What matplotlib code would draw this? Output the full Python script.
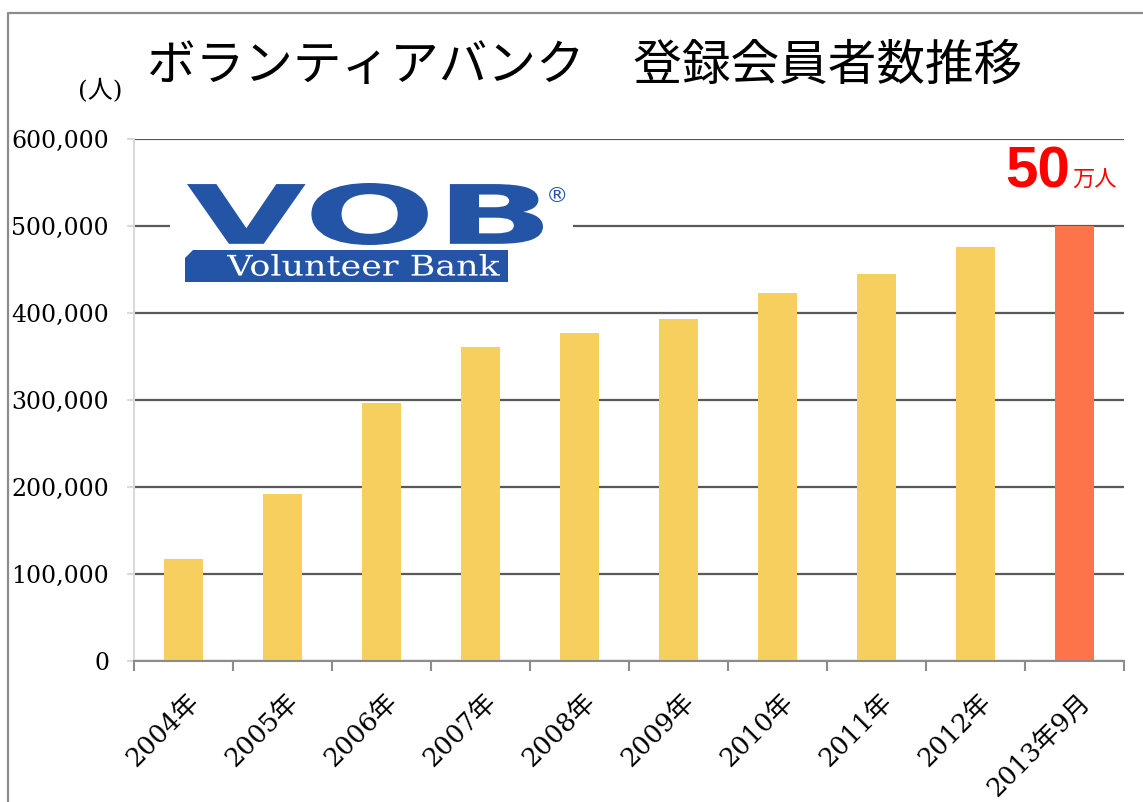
import numpy as np
import matplotlib
matplotlib.use('Agg')
import matplotlib.pyplot as plt
from matplotlib.transforms import Affine2D, ScaledTranslation
from matplotlib.textpath import TextPath
from matplotlib.font_manager import FontProperties
from matplotlib.patches import PathPatch, Polygon, Rectangle
from matplotlib.lines import Line2D

plt.rcParams['font.family'] = ['DejaVu Serif', 'Noto Sans CJK JP']

# data
years = ['2004年', '2005年', '2006年', '2007年', '2008年',
         '2009年', '2010年', '2011年', '2012年', '2013年9月']
members = [117000, 192000, 296000, 361000, 377000,
           393000, 423000, 445000, 476000, 500000]
yticks = [0, 100000, 200000, 300000, 400000, 500000, 600000]

bar_colors = ['#F7CF5F'] * (len(years) - 1) + ['#FE744A']

W, H = 1143, 802
fig = plt.figure(figsize=(W / 100, H / 100), dpi=100)
# transform for decorations in reference pixel coords (origin top-left)
px = Affine2D().scale(1 / W, -1 / H).translate(0, 1) + fig.transFigure

ax = fig.add_axes([134 / W, 1 - 661 / H, (1124 - 134) / W, (661 - 139) / H])

x = np.arange(len(years))
ax.bar(x, members, width=0.40, color=bar_colors, zorder=3)

ax.set_xlim(-0.5, len(years) - 0.5)
ax.set_ylim(0, 600000)
ax.set_yticks(yticks)
ax.set_yticklabels(['{:,}'.format(v) for v in yticks])
ax.yaxis.grid(True, color='#595959', lw=1.6, zorder=0)
ax.set_axisbelow(True)

# category boundaries as major ticks, labels on minor ticks
ax.set_xticks(np.arange(-0.5, len(years)))
ax.set_xticklabels([])
ax.set_xticks(x, minor=True)
ax.set_xticklabels(years, minor=True, rotation=45, ha='right', va='top',
                   rotation_mode='anchor', fontsize=18.5)
ax.tick_params(axis='x', which='major', length=7, width=1.5, color='#8c8c8c')
ax.tick_params(axis='x', which='minor', length=0, pad=20)
ax.tick_params(axis='y', length=5, width=1.5, color='#d9d9d9', pad=13,
               labelsize=17)
for lab in ax.get_xticklabels(minor=True):
    lab.set_transform(lab.get_transform() + ScaledTranslation(0.03, 0, fig.dpi_scale_trans))

for s in ['top', 'right']:
    ax.spines[s].set_visible(False)
ax.spines['left'].set_color('#d9d9d9')
ax.spines['left'].set_linewidth(1.5)
ax.spines['bottom'].set_color('#8c8c8c')
ax.spines['bottom'].set_linewidth(1.5)
ax.spines['bottom'].set_zorder(4)

# frame
fig.add_artist(Line2D([8, 8, W], [H, 13, 13], transform=px, color='#8c8c8c', lw=1.6))

# titles
fig.text(585 / W, 1 - 66 / H, 'ボランティアバンク　登録会員者数推移',
         family=['Noto Sans CJK JP'], fontsize=35, ha='center', va='center')
fig.text(100 / W, 1 - 91 / H, '(人)', family=['DejaVu Serif', 'Noto Sans CJK JP'],
         fontsize=18, ha='center', va='center')

# 50万人 annotation
fig.text(1005 / W, 1 - 187 / H, '50', family=['Liberation Sans'], fontweight='bold',
         fontsize=42, color='#FF0000', ha='left', va='baseline')
fig.text(1072 / W, 1 - 187 / H, '万人', family=['Noto Sans CJK JP'],
         fontsize=16, color='#FF0000', ha='left', va='baseline')


def fit_text(s, x0, y0, x1, y1, color, prop, z=6):
    tp = TextPath((0, 0), s, size=1, prop=prop)
    bb = tp.get_extents()
    tr = (Affine2D().translate(-bb.x0, -bb.y0)
          .scale((x1 - x0) / bb.width, -(y1 - y0) / bb.height)
          .translate(x0, y1))
    path = tr.transform_path(tp)
    fig.add_artist(PathPatch(path, facecolor=color, edgecolor='none',
                             transform=px, zorder=z))


# logo
blue = '#2354A6'
fig.add_artist(Rectangle((170, 176), 403, 112, transform=px, facecolor='white',
                         edgecolor='none', zorder=5))
fit_text('VOB', 187, 183, 543, 245, blue,
         FontProperties(family='DejaVu Sans', weight='bold'))
fig.add_artist(Polygon([(193, 250), (508, 250), (508, 282), (185, 282), (185, 258)],
                       closed=True, transform=px, facecolor=blue,
                       edgecolor='none', zorder=6))
fit_text('Volunteer Bank', 227, 254, 500, 276, 'white',
         FontProperties(family='DejaVu Serif'), z=7)
fig.text(557 / W, 1 - 196 / H, '®', family=['DejaVu Sans'], fontsize=16,
         color=blue, ha='center', va='center', zorder=7)

fig.savefig('out.png', dpi=100)
